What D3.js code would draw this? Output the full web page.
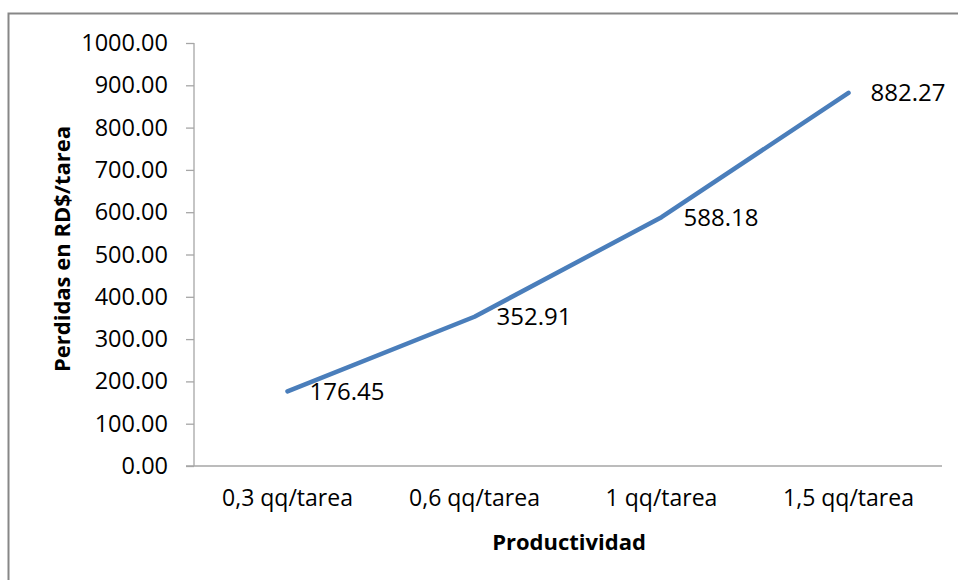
<!DOCTYPE html>
<html>
<head>
<meta charset="utf-8">
<script src="https://cdn.jsdelivr.net/npm/d3@7"></script>
<style>
  html, body { margin: 0; padding: 0; background: #fff; overflow: hidden; }
  svg { display: block; }
  text { font-family: "Open Sans", "Noto Sans", sans-serif; fill: #000; }
</style>
</head>
<body>
<svg id="chart" width="958" height="580"></svg>
<script>
// Pérdidas por tarea según productividad
const categories = ["0,3 qq/tarea", "0,6 qq/tarea", "1 qq/tarea", "1,5 qq/tarea"];
const perdidas = [176.45, 352.91, 588.18, 882.27];
const yTicks = [0, 100, 200, 300, 400, 500, 600, 700, 800, 900, 1000];

const svg = d3.select("#chart");
const W = 958, H = 580;
const plot = { left: 194, right: 942, top: 43, bottom: 466 };

// chart area frame (runs off the page on the right and bottom)
svg.append("rect")
  .attr("x", 8.5).attr("y", 13.5)
  .attr("width", W + 20).attr("height", H + 20)
  .attr("fill", "none")
  .attr("stroke", "#878787")
  .attr("stroke-width", 2);

const x = d3.scaleBand().domain(categories).range([plot.left, plot.right]);
const y = d3.scaleLinear().domain([0, 1000]).range([plot.bottom, plot.top]);

// y axis
const yAxis = svg.append("g")
  .attr("transform", `translate(${plot.left},0)`)
  .call(d3.axisLeft(y).tickValues(yTicks).tickFormat(d3.format(".2f")).tickSize(8).tickPadding(18));
yAxis.select(".domain").attr("stroke", "#a6a6a6").attr("stroke-width", 1.3).attr("d", `M0,${plot.top}V${plot.bottom}`);
yAxis.selectAll(".tick line").attr("stroke", "#a6a6a6").attr("stroke-width", 1.3);
yAxis.selectAll(".tick text")
  .attr("font-size", 23.5)
  .attr("font-family", "'Open Sans', sans-serif")
  .attr("fill", "#111");

// x axis
const xAxis = svg.append("g")
  .attr("transform", `translate(0,${plot.bottom})`)
  .call(d3.axisBottom(x).tickSize(0).tickPadding(24));
xAxis.select(".domain").attr("stroke", "#a6a6a6").attr("stroke-width", 1.3).attr("d", `M${plot.left - 8},0H${plot.right}`);
xAxis.selectAll(".tick text")
  .attr("font-size", 23)
  .attr("font-family", "'Open Sans', sans-serif")
  .attr("fill", "#111");

// series line
const pts = categories.map((c, i) => ({ c, v: perdidas[i] }));
const line = d3.line()
  .x(d => x(d.c) + x.bandwidth() / 2)
  .y(d => y(d.v));

svg.append("path")
  .datum(pts)
  .attr("d", line)
  .attr("fill", "none")
  .attr("stroke", "#4a7ebb")
  .attr("stroke-width", 4.5)
  .attr("stroke-linecap", "round")
  .attr("stroke-linejoin", "round");

// value labels to the right of each point
svg.append("g").selectAll("text")
  .data(pts)
  .join("text")
  .attr("x", d => x(d.c) + x.bandwidth() / 2 + 22)
  .attr("y", d => y(d.v))
  .attr("dy", "0.36em")
  .attr("font-size", 24)
  .attr("fill", "#111")
  .text(d => d3.format(".2f")(d.v));

// axis titles
svg.append("text")
  .attr("transform", `translate(62,249) rotate(-90)`)
  .attr("text-anchor", "middle")
  .attr("dy", "0.36em")
  .attr("font-size", 22)
  .attr("font-weight", "bold")
  .text("Perdidas en RD$/tarea");

svg.append("text")
  .attr("x", 569)
  .attr("y", 542)
  .attr("text-anchor", "middle")
  .attr("dy", "0.36em")
  .attr("font-size", 22)
  .attr("font-weight", "bold")
  .text("Productividad");
</script>
</body>
</html>
